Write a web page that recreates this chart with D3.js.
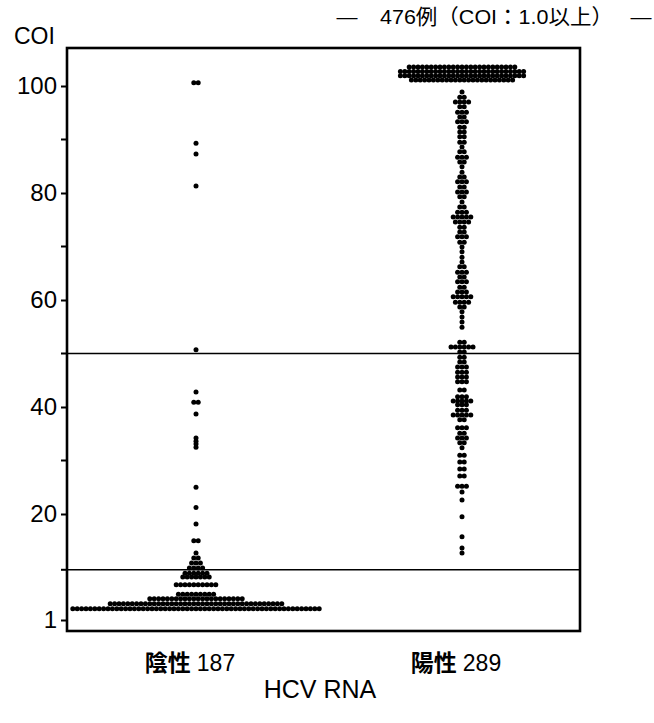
<!DOCTYPE html>
<html lang="ja">
<head>
  <meta charset="UTF-8">
  <title>HCV RNA COI dot plot</title>
  <script src="https://d3js.org/d3.v7.min.js"></script>
  <style>
    body { margin: 0; background: #fff; }
    svg { display: block; }
  </style>
</head>
<body>
  <div id="chart"></div>

  <script>
    // groups on the x axis
    const groups = ["陰性", "陽性"];
    const groupCounts = ["187", "289"];

    // y axis ticks
    const yTicks = [1, 20, 40, 60, 80, 100];
    const yTickLabels = ["1", "20", "40", "60", "80", "100"];
    const yMinorTicks = [10, 30, 50, 70, 90];

    // reference lines (COI)
    const refLines = [50, 10];

    // 陰性 (negative) : COI value and number of dots at that value
    const negValues = [100.6, 89.3, 87.3, 81.3, 50.7, 42.8, 40.9, 38.7, 34.2, 33.6, 33.1, 32.5,
                       25.0, 21.2, 18.2, 15.2, 13.0, 12.1, 11.2, 10.3, 9.4, 8.7, 7.3, 5.6, 4.8, 3.9, 3.0];
    const negCounts = [2, 1, 1, 1, 1, 1, 2, 1, 1, 1, 1, 1,
                       1, 1, 1, 2, 1, 2, 3, 4, 6, 7, 10, 9, 22, 40, 57];

    // 陽性 (positive)
    const posValues = [103.55, 102.7, 101.9, 101.1,
      98.9, 97.9, 97.0, 96.1, 95.1, 94.2, 93.3, 92.3, 91.4, 90.5,
      89.5, 88.6, 87.7, 86.7, 85.8, 84.9, 83.9, 83.0, 82.1, 81.1,
      80.2, 79.3, 78.3, 77.4, 76.4, 75.5, 74.6, 73.6, 72.7, 71.8,
      70.8, 69.9, 69.0, 68.0, 67.1, 66.2, 65.2, 64.3, 63.4, 62.4,
      61.5, 60.6, 59.6, 58.7, 57.8, 56.8, 55.9, 54.9,
      52.1, 51.2, 50.3, 49.3, 48.4, 47.5, 46.5, 45.6, 44.7, 43.2,
      41.9, 41.1, 40.4, 39.4, 38.5, 37.6, 36.1, 35.1, 34.2, 33.3,
      32.4, 31.0, 29.7, 28.4, 27.1, 25.2, 24.1, 22.6, 19.5, 15.9, 13.9, 13.0];
    const posCounts = [25, 29, 29, 24,
      1, 2, 4, 2, 3, 2, 3, 2, 2, 2,
      2, 1, 2, 3, 2, 1, 1, 2, 3, 2,
      3, 2, 1, 2, 3, 5, 4, 2, 2, 3,
      2, 1, 1, 1, 1, 2, 3, 2, 3, 2,
      3, 5, 4, 2, 1, 1, 1, 1,
      2, 6, 2, 2, 2, 3, 3, 3, 3, 2,
      3, 5, 3, 3, 5, 2, 3, 2, 3, 2,
      1, 2, 2, 2, 2, 3, 1, 1, 1, 1, 1, 1];

    const width = 654, height = 723;
    const margin = {top: 48, right: 74, bottom: 92, left: 67};
    const dotR = 2.5, dotStep = 4.4;

    const svg = d3.select("#chart").append("svg")
      .attr("width", width)
      .attr("height", height);

    const x = d3.scalePoint()
      .domain(groups)
      .range([196, 462]);

    // COI axis: 1 .. 20 stretched a little more than 20 .. 100
    const y = d3.scaleLinear()
      .domain([1, 20, 100])
      .range([620, 514, 86]);

    // expand value/count pairs into dots, laid side by side around the group centre
    function dots(group, values, counts) {
      const out = [];
      values.forEach((v, i) => {
        const n = counts[i];
        for (let k = 0; k < n; k++) {
          out.push({group: group, value: v, offset: (k - (n - 1) / 2) * dotStep});
        }
      });
      return out;
    }
    const allDots = dots(groups[0], negValues, negCounts).concat(dots(groups[1], posValues, posCounts));

    // reference lines
    svg.append("g")
      .selectAll("line")
      .data(refLines)
      .join("line")
        .attr("x1", margin.left)
        .attr("x2", width - margin.right)
        .attr("y1", d => y(d))
        .attr("y2", d => y(d))
        .attr("stroke", "#000")
        .attr("stroke-width", 1.6);

    svg.append("g")
      .selectAll("circle")
      .data(allDots)
      .join("circle")
        .attr("cx", d => x(d.group) + d.offset)
        .attr("cy", d => y(d.value))
        .attr("r", dotR)
        .attr("fill", "#000");

    // frame
    svg.append("rect")
      .attr("x", margin.left)
      .attr("y", margin.top)
      .attr("width", width - margin.left - margin.right)
      .attr("height", height - margin.top - margin.bottom)
      .attr("fill", "none")
      .attr("stroke", "#000")
      .attr("stroke-width", 2.6);

    // y axis
    const yAxis = svg.append("g")
      .attr("transform", `translate(${margin.left},0)`)
      .call(d3.axisLeft(y)
        .tickValues(yTicks)
        .tickFormat((d, i) => yTickLabels[i])
        .tickSize(6)
        .tickPadding(4));
    yAxis.select(".domain").remove();
    yAxis.selectAll(".tick line").attr("stroke", "#000").attr("stroke-width", 2);
    yAxis.selectAll(".tick text")
      .attr("fill", "#000")
      .style("font-family", "'Liberation Sans', Arial, sans-serif")
      .style("font-size", "24px");

    svg.append("g")
      .selectAll("line")
      .data(yMinorTicks)
      .join("line")
        .attr("x1", margin.left - 6)
        .attr("x2", margin.left)
        .attr("y1", d => y(d))
        .attr("y2", d => y(d))
        .attr("stroke", "#000")
        .attr("stroke-width", 2);

    // y axis title
    svg.append("text")
      .attr("x", 14)
      .attr("y", 44)
      .style("font-family", "'Liberation Sans', Arial, sans-serif")
      .style("font-size", "23px")
      .text("COI");

    // group labels
    const xl = svg.append("g")
      .selectAll("text")
      .data(groups)
      .join("text")
        .attr("x", d => x(d) - 6)
        .attr("y", 671)
        .attr("text-anchor", "middle")
        .style("font-size", "23px");
    xl.append("tspan")
      .style("font-family", "'Noto Sans CJK JP', sans-serif")
      .style("font-weight", "700")
      .text(d => d);
    xl.append("tspan")
      .style("font-family", "'Liberation Sans', Arial, sans-serif")
      .attr("dx", 6)
      .text((d, i) => groupCounts[i]);

    svg.append("text")
      .attr("x", 320)
      .attr("y", 698)
      .attr("text-anchor", "middle")
      .style("font-family", "'Liberation Sans', Arial, sans-serif")
      .style("font-size", "25px")
      .text("HCV RNA");

    // title at the top right
    const titleFont = "'Liberation Sans', 'Noto Sans CJK JP', sans-serif";
    svg.append("text")
      .attr("x", 347).attr("y", 24)
      .attr("text-anchor", "middle")
      .style("font-family", titleFont).style("font-size", "21px")
      .text("—");
    svg.append("text")
      .attr("x", 380).attr("y", 24)
      .attr("textLength", 233)
      .attr("lengthAdjust", "spacingAndGlyphs")
      .style("font-family", titleFont).style("font-size", "21px")
      .text("476例（COI：1.0以上）");
    svg.append("text")
      .attr("x", 641).attr("y", 24)
      .attr("text-anchor", "middle")
      .style("font-family", titleFont).style("font-size", "21px")
      .text("—");
  </script>
</body>
</html>
